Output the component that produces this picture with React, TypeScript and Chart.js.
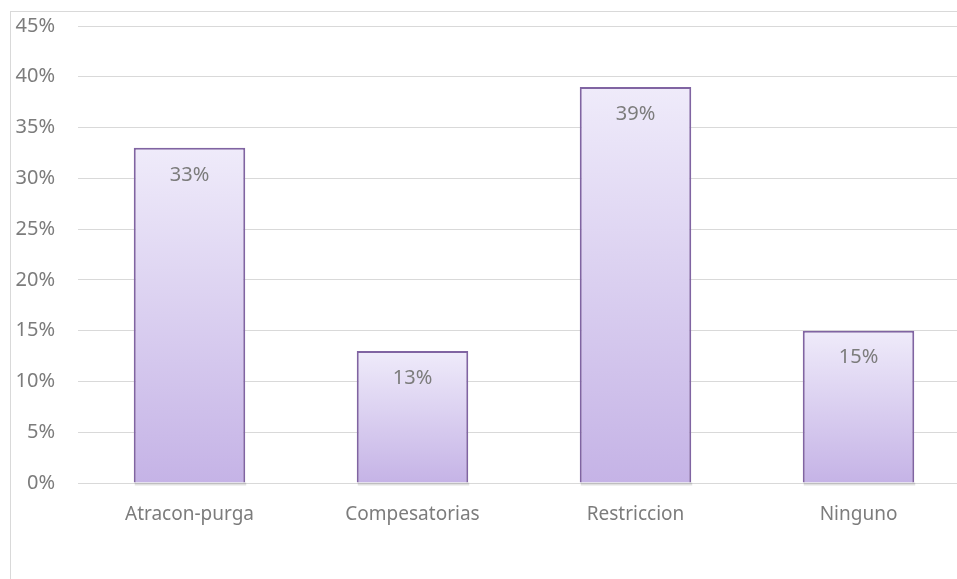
import React, { useEffect, useRef } from "react";
import { Chart, registerables } from "chart.js";

Chart.register(...registerables);

const categories = ["Atracon-purga", "Compesatorias", "Restriccion", "Ninguno"];
const values = [33, 13, 39, 15];
const valueLabels = ["33%", "13%", "39%", "15%"];

const FONT = "'Noto Sans', 'Open Sans', sans-serif";

const dataLabelPlugin = {
  id: "dataLabels",
  afterDatasetsDraw(chart: any) {
    const ctx = chart.ctx;
    const meta = chart.getDatasetMeta(0);
    ctx.save();
    ctx.font = `20px ${FONT}`;
    ctx.fillStyle = "#7c7c7c";
    ctx.textAlign = "center";
    ctx.textBaseline = "middle";
    meta.data.forEach((el: any, i: number) => {
      ctx.fillText(valueLabels[i], el.x, el.y + 27);
    });
    ctx.restore();
  },
};

const shadowPlugin = {
  id: "barShadow",
  beforeDatasetsDraw(chart: any) {
    const ctx = chart.ctx;
    const meta = chart.getDatasetMeta(0);
    ctx.save();
    meta.data.forEach((el: any) => {
      const w = el.width;
      ctx.fillStyle = "rgba(0,0,0,0.12)";
      ctx.fillRect(el.x - w / 2 + 1, el.base, w, 3);
    });
    ctx.restore();
  },
};

export default function App() {
  const ref = useRef<HTMLCanvasElement>(null);
  useEffect(() => {
    if (!ref.current) return;
    const chart = new Chart(ref.current, {
      type: "bar",
      data: {
        labels: categories,
        datasets: [
          {
            data: values,
            backgroundColor: (c: any) => {
              const chart = c.chart;
              const y = chart.scales && chart.scales.y;
              if (!y || c.raw === undefined) return "#dcd0f0";
              const top = y.getPixelForValue(c.raw);
              const bottom = y.getPixelForValue(0);
              if (!isFinite(top) || !isFinite(bottom) || top === bottom) return "#dcd0f0";
              const g = chart.ctx.createLinearGradient(0, top, 0, bottom);
              g.addColorStop(0, "#efebfa");
              g.addColorStop(1, "#c5b3e6");
              return g;
            },
            borderColor: "#8064a2",
            borderWidth: 2,
            borderSkipped: "start",
            barPercentage: 0.5,
            categoryPercentage: 1,
          },
        ],
      },
      options: {
        animation: false,
        responsive: false,
        maintainAspectRatio: false,
        layout: { padding: { top: 0, right: 0, bottom: 0, left: 0 } },
        plugins: { legend: { display: false }, tooltip: { enabled: false } },
        scales: {
          x: {
            grid: { display: false },
            border: { display: false },
            ticks: { font: { family: FONT, size: 19 }, color: "#7c7c7c", padding: 12 },
            afterFit: (s: any) => {
              s.height = 88;
            },
          },
          y: {
            min: 0,
            max: 45,
            ticks: {
              stepSize: 5,
              font: { family: FONT, size: 20 },
              color: "#7c7c7c",
              padding: 23,
              callback: (v: any) => v + "%",
            },
            grid: { color: "#d9d9d9", lineWidth: 1, drawTicks: false },
            border: { display: false },
            afterFit: (s: any) => {
              s.width = 67;
            },
          },
        },
      },
      plugins: [shadowPlugin, dataLabelPlugin],
    });
    return () => chart.destroy();
  }, []);
  return (
    <div style={{ position: "fixed", left: 0, top: 0, width: 957, height: 579, overflow: "hidden", background: "#fff" }}>
      <div
        style={{
          position: "absolute",
          left: 10,
          top: 11,
          width: 990,
          height: 600,
          border: "1px solid #d9d9d9",
          overflow: "hidden",
        }}
      >
        <canvas
          ref={ref}
          width={959}
          height={580}
          style={{ display: "block", position: "absolute", left: 0, top: -21 }}
        />
      </div>
    </div>
  );
}
